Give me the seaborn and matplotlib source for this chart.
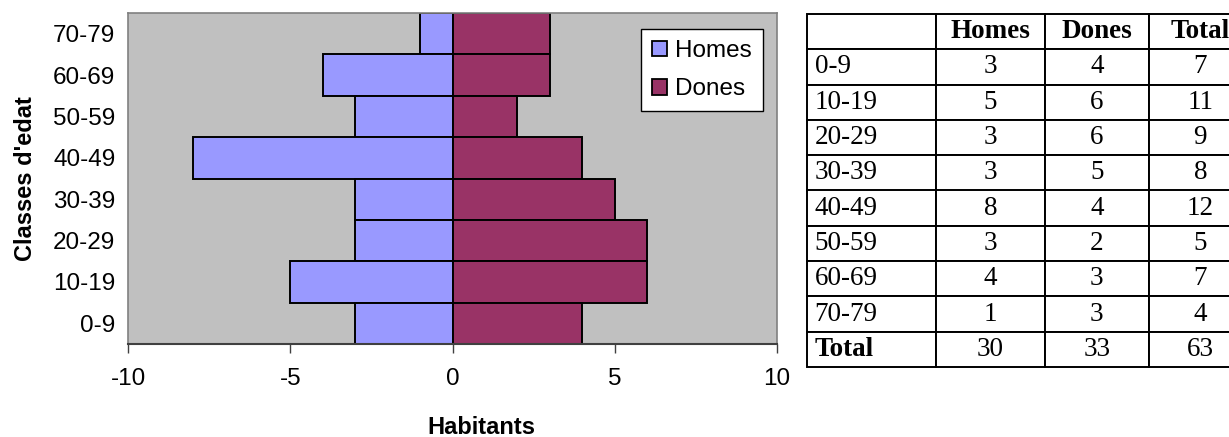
import matplotlib
matplotlib.use("Agg")
import matplotlib.pyplot as plt
import seaborn as sns
import pandas as pd

# ---- data ----
age_groups = ["0-9", "10-19", "20-29", "30-39", "40-49", "50-59", "60-69", "70-79"]
homes = [3, 5, 3, 3, 8, 3, 4, 1]
dones = [4, 6, 6, 5, 4, 2, 3, 3]
series_names = ["Homes", "Dones"]
x_ticks = [-10, -5, 0, 5, 10]

c_homes = "#9999FF"
c_dones = "#993366"

sns.set_theme(style="white")
plt.rcParams["font.family"] = ["Liberation Sans", "DejaVu Sans"]
plt.rcParams.update({"text.color": "black", "axes.labelcolor": "black",
                     "xtick.color": "black", "ytick.color": "black"})

df = pd.DataFrame({
    "age": age_groups * 2,
    "value": [-h for h in homes] + dones,
    "sex": [series_names[0]] * len(homes) + [series_names[1]] * len(dones),
})

W, H = 1229, 437
fig = plt.figure(figsize=(W / 100, H / 100), dpi=100)
L, R, T, B = 128, 777, 13, 344
ax = fig.add_axes([L / W, 1 - B / H, (R - L) / W, (B - T) / H])
ax.set_facecolor("#C0C0C0")

sns.barplot(data=df, y="age", x="value", hue="sex", order=age_groups[::-1],
            hue_order=series_names, palette=[c_homes, c_dones], dodge=False,
            width=1.0, orient="h", edgecolor="black", linewidth=1.4,
            saturation=1, ax=ax, legend=True)

ax.set_xlim(-10, 10)
ax.set_ylim(len(age_groups) - 0.5, -0.5)
ax.set_xticks(x_ticks)
ax.set_xticklabels([str(t) for t in x_ticks])
ax.tick_params(axis="x", direction="out", length=6.5, width=1, color="#404040",
               labelsize=17.5, pad=11, bottom=True, labelcolor="black")
ax.tick_params(axis="y", length=0, labelsize=17.5, pad=9, labelcolor="black")
for s in ["left", "top", "right"]:
    ax.spines[s].set_color("#808080")
    ax.spines[s].set_linewidth(1.2)
ax.spines["bottom"].set_color("#404040")
ax.spines["bottom"].set_linewidth(1.5)

ax.set_xlabel("Habitants", fontsize=17, fontweight="bold", color="black")
ax.set_ylabel("Classes d'edat", fontsize=17, fontweight="bold", color="black")
ax.xaxis.set_label_coords((481 - L) / (R - L), (B - 427) / (B - T))
ax.xaxis.label.set_va("center")
ax.yaxis.set_label_coords((25 - L) / (R - L), 0.5)
ax.yaxis.label.set_va("center")
ax.yaxis.label.set_ha("center")

handles, labels = ax.get_legend_handles_labels()
leg = ax.legend(handles, labels, loc="upper left",
                bbox_to_anchor=((641 - L) / (R - L), (B - 29) / (B - T)),
                fontsize=17.5, frameon=True, fancybox=False, framealpha=1,
                edgecolor="black", handlelength=0.6, handleheight=0.6,
                handletextpad=0.35, labelspacing=0.68, borderpad=0.45,
                borderaxespad=0)
leg.get_frame().set_linewidth(1.0)
for h in leg.legend_handles:
    h.set_edgecolor("black")
    h.set_linewidth(1.3)
for t in leg.get_texts():
    t.set_color("black")

# ---- table ----
tot_h, tot_d = sum(homes), sum(dones)
header = ["", "Homes", "Dones", "Total"]
rows = [[a, str(h), str(d), str(h + d)] for a, h, d in zip(age_groups, homes, dones)]
rows.append(["Total", str(tot_h), str(tot_d), str(tot_h + tot_d)])
cells = [header] + rows

tl, tt, tb, tr = 807, 14, 367, 1252
tax = fig.add_axes([tl / W, 1 - tb / H, (tr - tl) / W, (tb - tt) / H])
tax.axis("off")
col_w = [128, 109, 103, 103]
tot_w = sum(col_w)
tbl = tax.table(cellText=cells, cellLoc="center", bbox=[0, 0, 1, 1],
                colWidths=[w / tot_w for w in col_w])
tbl.auto_set_font_size(False)
nrows = len(cells)
for (r, c), cell in tbl.get_celld().items():
    cell.set_edgecolor("black")
    cell.set_linewidth(1.4)
    cell.set_facecolor("white")
    txt = cell.get_text()
    txt.set_fontfamily(["Liberation Serif", "DejaVu Serif"])
    txt.set_fontsize(19.5)
    txt.set_color("black")
    if c == 0:
        cell._loc = "left"
        cell.PAD = 0.06
        txt.set_ha("left")
    if r == 0 or (r == nrows - 1 and c == 0):
        txt.set_fontweight("bold")

fig.savefig("out.png", dpi=100)
